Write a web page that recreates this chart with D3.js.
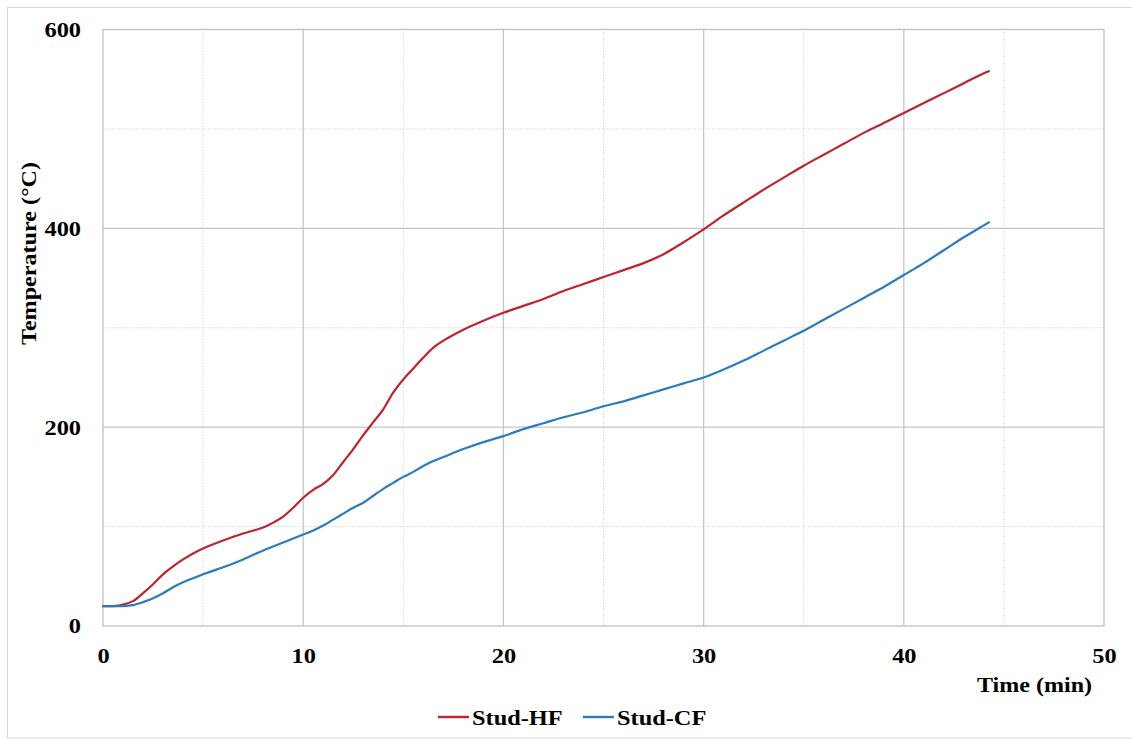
<!DOCTYPE html>
<html>
<head>
<meta charset="utf-8">
<script src="https://cdn.jsdelivr.net/npm/d3@7"></script>
<style>
  html, body { margin: 0; padding: 0; background: #fff; }
  svg { display: block; }
  text { font-family: "Liberation Serif", "Times New Roman", serif; font-weight: bold; fill: #000; }
</style>
</head>
<body>
<svg id="chart" width="1132" height="740"></svg>
<script>
// ---- data ----
const timeMin = [0, 0.5, 1, 1.5, 2, 2.5, 3, 3.5, 4, 4.5, 5, 6, 7, 8, 8.5, 9, 9.5, 10, 10.5, 11, 11.5, 12, 12.5, 13, 13.5, 14, 14.5, 15, 15.5, 16, 16.5, 17, 18, 19, 20, 21, 22, 23, 24, 25, 26, 27, 28, 29, 30, 31, 32, 33, 34, 35, 36, 37, 38, 39, 40, 41, 42, 43, 44, 44.25];
const studHF = [20, 20, 21.5, 25, 33, 42, 52, 60, 67, 73, 78, 86, 93, 99, 104, 110, 119, 129, 137, 143, 152, 165, 178, 192, 205, 218, 235, 248, 259, 270, 280, 287, 298, 307, 315, 322, 329, 337, 344, 351, 358, 365, 374, 386, 399, 413, 426, 439, 451, 463, 474, 485, 496, 506, 516, 526, 536, 546, 556, 558];
const studCF = [20, 20, 20, 21, 24, 28, 33, 39, 44, 48, 52, 59, 67, 76, 80, 84, 88, 92, 96, 101, 107, 113, 119, 124, 131, 138, 144, 150, 155, 161, 166, 170, 178, 185, 191, 198, 204, 210, 215, 221, 226, 232, 238, 244, 250, 258, 267, 277, 287, 297, 308, 319, 330, 341, 353, 365, 378, 391, 403, 406];
const seriesNames = ["Stud-HF", "Stud-CF"];
const seriesColors = ["#C0232B", "#2A7BC0"];
const xTicks = [0, 10, 20, 30, 40, 50];
const xMinor = [5, 15, 25, 35, 45];
const yTicks = [0, 200, 400, 600];
const yMinor = [100, 300, 500];
const xTitle = "Time (min)";
const yTitle = "Temperature (°C)";

// ---- layout ----
const svg = d3.select("#chart");
const L = 103, R = 1104, T = 29.5, B = 626;
const x = d3.scaleLinear().domain([0, 50]).range([L, R]);
const y = d3.scaleLinear().domain([0, 600]).range([B, T]);
const STRETCH = 1.16;

function stretch(sel, k) {
  sel.each(function () {
    const len = this.getComputedTextLength();
    d3.select(this).attr("textLength", len * k).attr("lengthAdjust", "spacingAndGlyphs");
  });
}

// outer chart border
svg.append("rect").attr("x", 7.5).attr("y", 7.5).attr("width", 1135).attr("height", 730.5)
  .attr("fill", "#fff").attr("stroke", "#d9d9d9").attr("stroke-width", 1);

// minor gridlines (dotted)
const grid = svg.append("g");
grid.selectAll(".vmin").data(xMinor).join("line")
  .attr("x1", d => x(d)).attr("x2", d => x(d)).attr("y1", T).attr("y2", B)
  .attr("stroke", "#d9d9d9").attr("stroke-width", 1).attr("stroke-dasharray", "1.5,1.5");
grid.selectAll(".hmin").data(yMinor).join("line")
  .attr("y1", d => y(d)).attr("y2", d => y(d)).attr("x1", L).attr("x2", R)
  .attr("stroke", "#d9d9d9").attr("stroke-width", 1).attr("stroke-dasharray", "1.5,1.5");

// major gridlines (solid)
grid.selectAll(".vmaj").data(xTicks.filter(d => d > 0 && d < 50)).join("line")
  .attr("x1", d => x(d)).attr("x2", d => x(d)).attr("y1", T).attr("y2", B)
  .attr("stroke", "#c6c6c6").attr("stroke-width", 1.3);
grid.selectAll(".hmaj").data(yTicks.filter(d => d > 0 && d < 600)).join("line")
  .attr("y1", d => y(d)).attr("y2", d => y(d)).attr("x1", L).attr("x2", R)
  .attr("stroke", "#c6c6c6").attr("stroke-width", 1.3);

// plot border
svg.append("rect").attr("x", L).attr("y", T).attr("width", R - L).attr("height", B - T)
  .attr("fill", "none").attr("stroke", "#c0c0c0").attr("stroke-width", 1.3);

// axes (labels only)
const xAxis = svg.append("g").attr("transform", `translate(0,${B})`)
  .call(d3.axisBottom(x).tickValues(xTicks).tickSize(0).tickFormat(d3.format("d")));
xAxis.select(".domain").remove();
xAxis.selectAll("text").attr("y", 37).attr("dy", 0)
  .style("font-size", "21px").style("font-family", "Liberation Serif").style("font-weight", "bold").attr("fill", "#000");
stretch(xAxis.selectAll("text"), STRETCH);

const yAxis = svg.append("g").attr("transform", `translate(${L},0)`)
  .call(d3.axisLeft(y).tickValues(yTicks).tickSize(0).tickPadding(22).tickFormat(d3.format("d")));
yAxis.select(".domain").remove();
yAxis.selectAll("text").attr("dy", "0.33em")
  .style("font-size", "21px").style("font-family", "Liberation Serif").style("font-weight", "bold").attr("fill", "#000");
stretch(yAxis.selectAll("text"), STRETCH);

// axis titles
svg.append("text").attr("x", 1092).attr("y", 692).attr("text-anchor", "end")
  .style("font-size", "21px").attr("textLength", 115).attr("lengthAdjust", "spacingAndGlyphs")
  .text(xTitle);
svg.append("text").attr("transform", "translate(36,253.5) rotate(-90)").attr("text-anchor", "middle")
  .style("font-size", "21px").attr("textLength", 183).attr("lengthAdjust", "spacingAndGlyphs")
  .text(yTitle);

// lines
const line = d3.line().x((d, i) => x(timeMin[i])).y(d => y(d)).curve(d3.curveCatmullRom.alpha(0.5));
[studHF, studCF].forEach((s, k) => {
  svg.append("path").datum(s).attr("d", line).attr("fill", "none")
    .attr("stroke", seriesColors[k]).attr("stroke-width", 2.2)
    .attr("stroke-linejoin", "round").attr("stroke-linecap", "round");
});

// legend
const legendX = [438, 583];
seriesNames.forEach((name, k) => {
  const g = svg.append("g").attr("transform", `translate(${legendX[k]},717)`);
  g.append("line").attr("x1", 0).attr("x2", 31).attr("y1", 0).attr("y2", 0)
    .attr("stroke", seriesColors[k]).attr("stroke-width", 2.4);
  const t = g.append("text").attr("x", 34).attr("y", 7.5).style("font-size", "21px").text(name);
  stretch(t, STRETCH);
});
</script>
</body>
</html>
